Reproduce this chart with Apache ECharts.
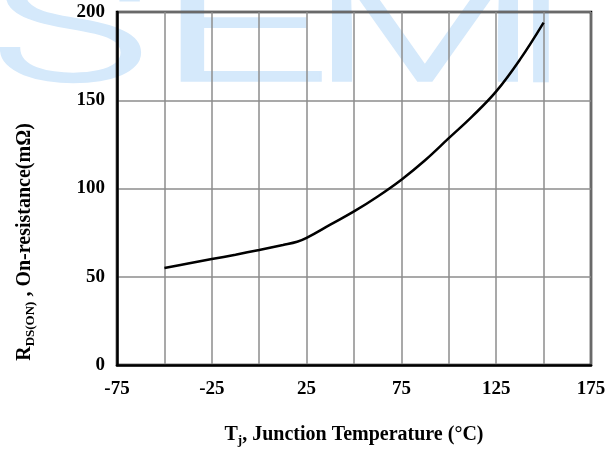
<!DOCTYPE html>
<html>
<head>
<meta charset="utf-8">
<script src="https://cdn.jsdelivr.net/npm/echarts@6/dist/echarts.min.js"></script>
<style>
  html, body { margin: 0; padding: 0; background: #fff; }
  #main { width: 616px; height: 452px; }
</style>
</head>
<body>
<div id="main"></div>
<script>
// junction temperature (°C) and on-resistance (mΩ)
const temps = [-50, -37.5, -25, -12.5, 0, 12.5, 20, 25, 37.5, 50, 62.5, 75, 87.5, 100, 112.5, 125, 137.5, 150];
const rdsOn = [55, 57.5, 60, 62.5, 65.2, 68, 69.8, 72, 79.5, 87, 95.5, 105, 116, 128.5, 141, 155, 173, 194];
const xTicks = [-75, -25, 25, 75, 125, 175];
const yTicks = [0, 50, 100, 150, 200];
const watermark = ['S', 'E', 'M', 'I'];

const serif = '"Liberation Serif", "DejaVu Serif", serif';
const wmColor = '#d5e9fb';
// centre and horizontal stretch of each watermark letter
const wmX = [70, 243, 425, 541];
const wmScale = [1.7, 1.95, 1.68, 1.3];

let chart = echarts.init(document.getElementById('main'));

let option = {
  backgroundColor: '#fff',
  animation: false,
  graphic: [
    ...watermark.map((ch, i) => ({
      type: 'text',
      z: -10,
      silent: true,
      x: wmX[i],
      y: 120,
      scaleX: wmScale[i],
      style: {
        text: ch,
        fill: wmColor,
        stroke: wmColor,
        lineWidth: 2.5,
        lineJoin: 'round',
        font: '300 158px Roboto, "Noto Sans", sans-serif',
        align: 'center',
        verticalAlign: 'bottom'
      }
    })),
    {
      type: 'text',
      x: 25,
      y: 242,
      rotation: Math.PI / 2,
      style: {
        text: '{a|R}{s|DS(ON)}{a| , On-resistance(mΩ)}',
        align: 'center',
        verticalAlign: 'middle',
        rich: {
          a: { fontFamily: serif, fontWeight: 'bold', fontSize: 20, fill: '#000' },
          s: { fontFamily: serif, fontWeight: 'bold', fontSize: 13, fill: '#000', padding: [11, 0, 0, 0] }
        }
      }
    }
  ],
  grid: {
    left: 117,
    right: 25,
    top: 12,
    bottom: 76,
    show: true,
    borderColor: '#000',
    borderWidth: 2.5,
    backgroundColor: 'transparent'
  },
  xAxis: {
    type: 'value',
    min: -75,
    max: 175,
    interval: 25,
    name: '{a|T}{s|j}{a|, Junction Temperature (°C)}',
    nameLocation: 'middle',
    nameGap: 58,
    nameTextStyle: {
      rich: {
        a: { fontFamily: serif, fontWeight: 'bold', fontSize: 20, color: '#000' },
        s: { fontFamily: serif, fontWeight: 'bold', fontSize: 13, color: '#000', padding: [11, 0, 0, 0] }
      }
    },
    axisLine: { show: true, onZero: false, lineStyle: { color: '#000', width: 2.5 } },
    axisTick: { show: false },
    axisLabel: {
      margin: 15,
      fontFamily: serif,
      fontWeight: 'bold',
      fontSize: 19,
      color: '#000',
      formatter: v => (xTicks.includes(v) ? String(v) : '')
    },
    splitLine: { show: true, lineStyle: { color: '#8c8c8c', width: 1.5 } }
  },
  yAxis: {
    type: 'value',
    min: 0,
    max: 200,
    interval: 50,
    axisLine: { show: true, onZero: false, lineStyle: { color: '#000', width: 2.5 } },
    axisTick: { show: false },
    axisLabel: {
      margin: 12,
      fontFamily: serif,
      fontWeight: 'bold',
      fontSize: 19,
      color: '#000',
      formatter: v => (yTicks.includes(v) ? String(v) : '')
    },
    splitLine: { show: true, lineStyle: { color: '#8c8c8c', width: 1.5 } }
  },
  series: [
    {
      type: 'line',
      data: temps.map((t, i) => [t, rdsOn[i]]),
      smooth: 0.4,
      showSymbol: false,
      lineStyle: { color: '#000', width: 2.5 }
    }
  ]
};

chart.setOption(option);
</script>
</body>
</html>
